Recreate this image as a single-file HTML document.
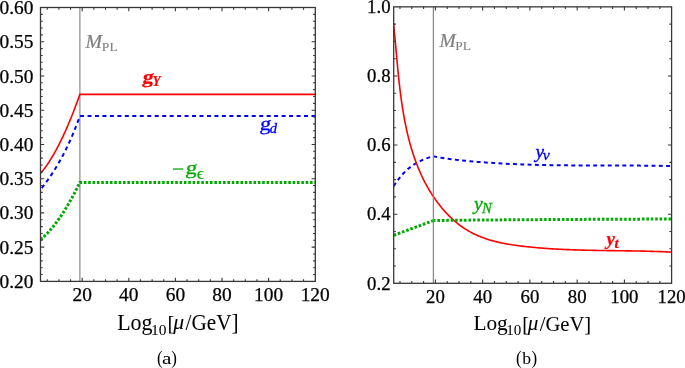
<!DOCTYPE html>
<html><head><meta charset="utf-8"><style>
html,body{margin:0;padding:0;background:#fff;width:685px;height:368px;overflow:hidden}
svg{display:block;will-change:transform}
text{font-family:"Liberation Serif",serif}
</style></head><body>
<svg width="685" height="368" viewBox="0 0 685 368">
<defs><clipPath id="cl"><rect x="40.5" y="7.5" width="274.8" height="273.9"/></clipPath><clipPath id="cr"><rect x="393.7" y="6.85" width="277.9" height="276.45"/></clipPath></defs>
<line x1="79.85" y1="7.5" x2="79.85" y2="281.4" stroke="#a8a8a8" stroke-width="1.6"/>
<g clip-path="url(#cl)" fill="none">
<path d="M40.5 173.51 L41.48 172.33 L42.47 171.12 L43.45 169.86 L44.44 168.57 L45.42 167.23 L46.4 165.85 L47.39 164.43 L48.37 162.97 L49.35 161.46 L50.34 159.92 L51.32 158.33 L52.3 156.7 L53.29 155.04 L54.27 153.33 L55.26 151.57 L56.24 149.78 L57.22 147.95 L58.21 146.07 L59.19 144.16 L60.17 142.2 L61.16 140.2 L62.14 138.16 L63.13 136.08 L64.11 133.95 L65.09 131.79 L66.08 129.58 L67.06 127.34 L68.04 125.05 L69.03 122.72 L70.01 120.35 L71 117.94 L71.98 115.48 L72.96 112.99 L73.95 110.45 L74.93 107.87 L75.91 105.26 L76.9 102.6 L77.88 99.89 L78.87 97.15 L79.85 94.37 L315.3 94.4" stroke="#ff0000" stroke-width="1.6"/>
<path d="M40.5 189.6 L41.48 188.37 L42.47 187.11 L43.45 185.84 L44.44 184.54 L45.42 183.23 L46.4 181.89 L47.39 180.52 L48.37 179.14 L49.35 177.73 L50.34 176.29 L51.32 174.83 L52.3 173.34 L53.29 171.82 L54.27 170.28 L55.26 168.7 L56.24 167.1 L57.22 165.46 L58.21 163.79 L59.19 162.09 L60.17 160.35 L61.16 158.58 L62.14 156.77 L63.13 154.92 L64.11 153.03 L65.09 151.1 L66.08 149.13 L67.06 147.11 L68.04 145.05 L69.03 142.94 L70.01 140.78 L71 138.57 L71.98 136.3 L72.96 133.98 L73.95 131.6 L74.93 129.16 L75.91 126.66 L76.9 124.09 L77.88 121.45 L78.87 118.74 L79.85 115.95 L315.3 115.95" stroke="#0000ff" stroke-width="2" stroke-dasharray="4 3.465" stroke-dashoffset="-2"/>
<path d="M40.5 239.67 L41.48 238.83 L42.47 237.97 L43.45 237.07 L44.44 236.15 L45.42 235.19 L46.4 234.2 L47.39 233.18 L48.37 232.14 L49.35 231.06 L50.34 229.95 L51.32 228.81 L52.3 227.64 L53.29 226.43 L54.27 225.2 L55.26 223.94 L56.24 222.65 L57.22 221.32 L58.21 219.97 L59.19 218.58 L60.17 217.17 L61.16 215.72 L62.14 214.24 L63.13 212.73 L64.11 211.19 L65.09 209.62 L66.08 208.02 L67.06 206.39 L68.04 204.73 L69.03 203.04 L70.01 201.32 L71 199.57 L71.98 197.78 L72.96 195.97 L73.95 194.12 L74.93 192.25 L75.91 190.34 L76.9 188.4 L77.88 186.43 L78.87 184.44 L79.85 182.41 L315.3 182.4" stroke="#00aa00" stroke-width="3" stroke-dasharray="2.6 1.75"/>
</g>
<g clip-path="url(#cr)" fill="none">
<path d="M393.7 186.15 L395.07 184.03 L396.44 182.03 L397.81 180.13 L399.18 178.34 L400.54 176.65 L401.91 175.05 L403.28 173.54 L404.65 172.13 L406.02 170.79 L407.39 169.54 L408.76 168.37 L410.13 167.27 L411.5 166.23 L412.87 165.27 L414.23 164.36 L415.6 163.52 L416.97 162.72 L418.34 161.98 L419.71 161.29 L421.08 160.63 L422.45 160.02 L423.82 159.44 L425.19 158.89 L426.56 158.37 L427.92 157.88 L429.29 157.4 L430.66 156.94 L432.03 156.49 L433.4 156.2 L437.44 157.19 L441.47 157.82 L445.51 158.41 L449.55 158.96 L453.59 159.47 L457.62 159.95 L461.66 160.39 L465.7 160.81 L469.74 161.19 L473.77 161.56 L477.81 161.9 L481.85 162.21 L485.88 162.51 L489.92 162.79 L493.96 163.05 L498 163.3 L502.03 163.52 L506.07 163.73 L510.11 163.93 L514.15 164.11 L518.18 164.27 L522.22 164.42 L526.26 164.56 L530.29 164.68 L534.33 164.8 L538.37 164.9 L542.41 164.99 L546.44 165.07 L550.48 165.14 L554.52 165.2 L558.56 165.26 L562.59 165.31 L566.63 165.35 L570.67 165.38 L574.71 165.41 L578.74 165.43 L582.78 165.45 L586.82 165.46 L590.85 165.48 L594.89 165.49 L598.93 165.49 L602.97 165.5 L607 165.51 L611.04 165.51 L615.08 165.52 L619.12 165.53 L623.15 165.54 L627.19 165.56 L631.23 165.57 L635.26 165.59 L639.3 165.62 L643.34 165.65 L647.38 165.69 L651.41 165.73 L655.45 165.78 L659.49 165.84 L663.53 165.91 L667.56 165.98 L671.6 166.07" stroke="#0000ff" stroke-width="2" stroke-dasharray="3.9 3.39"/>
<path d="M393.55 23.52 L393.72 25.08 L393.88 26.65 L394.04 28.23 L394.2 29.82 L394.36 31.41 L394.51 33 L394.67 34.6 L394.82 36.21 L394.97 37.82 L395.12 39.44 L395.27 41.06 L395.41 42.69 L395.56 44.32 L395.71 45.95 L395.85 47.59 L396 49.24 L396.14 50.88 L396.29 52.54 L396.44 54.19 L396.58 55.85 L396.73 57.51 L396.88 59.18 L397.03 60.85 L397.19 62.52 L397.34 64.2 L397.5 65.87 L397.66 67.55 L397.82 69.24 L397.98 70.92 L398.14 72.61 L398.31 74.3 L398.48 75.99 L398.66 77.68 L398.84 79.37 L399.02 81.07 L399.2 82.76 L399.39 84.46 L399.58 86.16 L399.78 87.86 L399.98 89.55 L400.19 91.25 L400.4 92.95 L400.62 94.65 L400.84 96.35 L401.07 98.05 L401.3 99.75 L401.54 101.45 L401.78 103.15 L402.03 104.85 L402.29 106.55 L402.55 108.24 L402.82 109.94 L403.1 111.63 L403.39 113.32 L403.68 115.01 L403.98 116.7 L404.28 118.39 L404.6 120.07 L404.92 121.75 L405.25 123.43 L405.59 125.11 L405.94 126.78 L406.3 128.45 L406.66 130.12 L407.04 131.79 L407.42 133.45 L407.82 135.11 L408.22 136.76 L408.63 138.41 L409.06 140.06 L409.49 141.7 L409.94 143.34 L410.39 144.98 L410.86 146.61 L411.34 148.23 L411.82 149.85 L412.32 151.47 L412.84 153.08 L413.36 154.68 L413.89 156.28 L414.44 157.88 L415 159.47 L415.57 161.05 L416.16 162.63 L416.76 164.2 L417.37 165.76 L417.99 167.32 L418.63 168.87 L419.28 170.41 L419.95 171.95 L420.63 173.48 L421.32 175.01 L422.03 176.52 L422.76 178.03 L423.49 179.53 L424.25 181.02 L425.02 182.51 L425.8 183.99 L426.6 185.45 L427.41 186.91 L428.24 188.37 L429.09 189.81 L429.95 191.24 L430.83 192.67 L431.73 194.09 L432.64 195.49 L433.58 196.89 L434.52 198.28 L435.49 199.65 L436.47 201.02 L437.47 202.37 L438.48 203.72 L439.52 205.05 L440.57 206.36 L441.63 207.66 L442.71 208.95 L443.81 210.22 L444.93 211.47 L446.06 212.71 L447.21 213.93 L448.37 215.13 L449.56 216.31 L450.75 217.47 L451.97 218.62 L453.2 219.74 L454.44 220.84 L455.71 221.92 L456.98 222.98 L458.28 224.01 L459.59 225.02 L460.91 226 L462.25 226.96 L463.61 227.9 L464.98 228.81 L466.37 229.69 L467.77 230.54 L469.19 231.36 L470.63 232.16 L472.08 232.93 L473.54 233.67 L475.02 234.38 L476.51 235.06 L478.01 235.72 L479.53 236.36 L481.06 236.97 L482.6 237.56 L484.15 238.12 L485.72 238.66 L487.29 239.18 L488.87 239.68 L490.47 240.16 L492.07 240.61 L493.68 241.05 L495.3 241.47 L496.93 241.87 L498.56 242.25 L500.2 242.62 L501.85 242.97 L503.5 243.31 L505.16 243.63 L506.82 243.93 L508.49 244.22 L510.17 244.5 L511.84 244.77 L513.52 245.03 L515.2 245.27 L516.89 245.5 L518.57 245.73 L520.26 245.94 L521.95 246.15 L523.64 246.35 L525.33 246.54 L527.02 246.72 L528.71 246.9 L530.4 247.07 L532.08 247.24 L533.77 247.4 L535.46 247.56 L537.14 247.71 L538.83 247.85 L540.51 247.99 L542.19 248.12 L543.88 248.25 L545.56 248.38 L547.24 248.5 L548.92 248.61 L550.6 248.72 L552.28 248.83 L553.97 248.93 L555.64 249.03 L557.32 249.12 L559 249.21 L560.68 249.3 L562.36 249.38 L564.04 249.45 L565.72 249.53 L567.39 249.6 L569.07 249.67 L570.75 249.73 L572.42 249.79 L574.1 249.85 L575.78 249.91 L577.45 249.96 L579.13 250.01 L580.8 250.06 L582.48 250.11 L584.15 250.15 L585.83 250.19 L587.5 250.23 L589.18 250.27 L590.86 250.3 L592.53 250.34 L594.21 250.37 L595.88 250.4 L597.56 250.43 L599.23 250.46 L600.91 250.48 L602.58 250.51 L604.26 250.53 L605.93 250.56 L607.61 250.58 L609.29 250.6 L610.96 250.63 L612.64 250.65 L614.32 250.67 L616 250.69 L617.67 250.71 L619.35 250.74 L621.03 250.76 L622.71 250.78 L624.39 250.8 L626.07 250.83 L627.75 250.85 L629.43 250.88 L631.11 250.9 L632.79 250.93 L634.47 250.96 L636.15 250.99 L637.83 251.02 L639.52 251.05 L641.2 251.09 L642.88 251.12 L644.57 251.16 L646.25 251.2 L647.94 251.24 L649.63 251.28 L651.31 251.33 L653 251.38 L654.69 251.43 L656.38 251.48 L658.07 251.54 L659.76 251.6 L661.45 251.66 L663.14 251.73 L664.84 251.79 L666.53 251.87 L668.23 251.94 L669.92 252.02 L671.62 252.1" stroke="#ff0000" stroke-width="1.6"/>
<path d="M393.7 235.3L433.4 220.6" stroke="#00aa00" stroke-width="3" stroke-dasharray="2.6 1.845"/>
<path d="M433.4 220.6Q470 219.8 671.6 219.0" stroke="#00aa00" stroke-width="3" stroke-dasharray="2.6 1.845" stroke-dashoffset="0.35"/>
</g>
<line x1="433.4" y1="6.85" x2="433.4" y2="283.3" stroke="#8a8a8a" stroke-width="1.3"/>
<path d="M47.25 281.4v-2.2M47.25 7.5v2.2M58.9 281.4v-2.2M58.9 7.5v2.2M70.55 281.4v-2.2M70.55 7.5v2.2M82.2 281.4v-3.7M82.2 7.5v3.7M93.85 281.4v-2.2M93.85 7.5v2.2M105.5 281.4v-2.2M105.5 7.5v2.2M117.15 281.4v-2.2M117.15 7.5v2.2M128.8 281.4v-3.7M128.8 7.5v3.7M140.45 281.4v-2.2M140.45 7.5v2.2M152.1 281.4v-2.2M152.1 7.5v2.2M163.75 281.4v-2.2M163.75 7.5v2.2M175.4 281.4v-3.7M175.4 7.5v3.7M187.05 281.4v-2.2M187.05 7.5v2.2M198.7 281.4v-2.2M198.7 7.5v2.2M210.35 281.4v-2.2M210.35 7.5v2.2M222 281.4v-3.7M222 7.5v3.7M233.65 281.4v-2.2M233.65 7.5v2.2M245.3 281.4v-2.2M245.3 7.5v2.2M256.95 281.4v-2.2M256.95 7.5v2.2M268.6 281.4v-3.7M268.6 7.5v3.7M280.25 281.4v-2.2M280.25 7.5v2.2M291.9 281.4v-2.2M291.9 7.5v2.2M303.55 281.4v-2.2M303.55 7.5v2.2M40.5 274.55h2.2M315.3 274.55h-2.2M40.5 267.7h2.2M315.3 267.7h-2.2M40.5 260.86h2.2M315.3 260.86h-2.2M40.5 254.01h2.2M315.3 254.01h-2.2M40.5 247.16h2.2M315.3 247.16h-2.2M40.5 240.31h2.2M315.3 240.31h-2.2M40.5 233.47h2.2M315.3 233.47h-2.2M40.5 226.62h2.2M315.3 226.62h-2.2M40.5 219.77h2.2M315.3 219.77h-2.2M40.5 212.92h2.2M315.3 212.92h-2.2M40.5 206.08h2.2M315.3 206.08h-2.2M40.5 199.23h2.2M315.3 199.23h-2.2M40.5 192.38h2.2M315.3 192.38h-2.2M40.5 185.53h2.2M315.3 185.53h-2.2M40.5 178.69h2.2M315.3 178.69h-2.2M40.5 171.84h2.2M315.3 171.84h-2.2M40.5 164.99h2.2M315.3 164.99h-2.2M40.5 158.14h2.2M315.3 158.14h-2.2M40.5 151.3h2.2M315.3 151.3h-2.2M40.5 144.45h2.2M315.3 144.45h-2.2M40.5 137.6h2.2M315.3 137.6h-2.2M40.5 130.75h2.2M315.3 130.75h-2.2M40.5 123.91h2.2M315.3 123.91h-2.2M40.5 117.06h2.2M315.3 117.06h-2.2M40.5 110.21h2.2M315.3 110.21h-2.2M40.5 103.36h2.2M315.3 103.36h-2.2M40.5 96.52h2.2M315.3 96.52h-2.2M40.5 89.67h2.2M315.3 89.67h-2.2M40.5 82.82h2.2M315.3 82.82h-2.2M40.5 75.97h2.2M315.3 75.97h-2.2M40.5 69.13h2.2M315.3 69.13h-2.2M40.5 62.28h2.2M315.3 62.28h-2.2M40.5 55.43h2.2M315.3 55.43h-2.2M40.5 48.58h2.2M315.3 48.58h-2.2M40.5 41.74h2.2M315.3 41.74h-2.2M40.5 34.89h2.2M315.3 34.89h-2.2M40.5 28.04h2.2M315.3 28.04h-2.2M40.5 21.19h2.2M315.3 21.19h-2.2M40.5 14.35h2.2M315.3 14.35h-2.2M40.5 247.16h3.7M315.3 247.16h-3.7M40.5 212.92h3.7M315.3 212.92h-3.7M40.5 178.69h3.7M315.3 178.69h-3.7M40.5 144.45h3.7M315.3 144.45h-3.7M40.5 110.21h3.7M315.3 110.21h-3.7M40.5 75.97h3.7M315.3 75.97h-3.7M40.5 41.74h3.7M315.3 41.74h-3.7" stroke="#383838" stroke-width="1.1" fill="none"/>
<rect x="40.5" y="7.5" width="274.8" height="273.9" stroke="#383838" stroke-width="1.3" fill="none"/>
<path d="M399.96 283.3v-2.2M399.96 6.85v2.2M411.77 283.3v-2.2M411.77 6.85v2.2M423.59 283.3v-2.2M423.59 6.85v2.2M435.4 283.3v-3.7M435.4 6.85v3.7M447.21 283.3v-2.2M447.21 6.85v2.2M459.02 283.3v-2.2M459.02 6.85v2.2M470.84 283.3v-2.2M470.84 6.85v2.2M482.65 283.3v-3.7M482.65 6.85v3.7M494.46 283.3v-2.2M494.46 6.85v2.2M506.27 283.3v-2.2M506.27 6.85v2.2M518.09 283.3v-2.2M518.09 6.85v2.2M529.9 283.3v-3.7M529.9 6.85v3.7M541.71 283.3v-2.2M541.71 6.85v2.2M553.52 283.3v-2.2M553.52 6.85v2.2M565.34 283.3v-2.2M565.34 6.85v2.2M577.15 283.3v-3.7M577.15 6.85v3.7M588.96 283.3v-2.2M588.96 6.85v2.2M600.77 283.3v-2.2M600.77 6.85v2.2M612.59 283.3v-2.2M612.59 6.85v2.2M624.4 283.3v-3.7M624.4 6.85v3.7M636.21 283.3v-2.2M636.21 6.85v2.2M648.02 283.3v-2.2M648.02 6.85v2.2M659.84 283.3v-2.2M659.84 6.85v2.2M393.7 266.02h2.2M671.6 266.02h-2.2M393.7 248.74h2.2M671.6 248.74h-2.2M393.7 231.47h2.2M671.6 231.47h-2.2M393.7 214.19h2.2M671.6 214.19h-2.2M393.7 196.91h2.2M671.6 196.91h-2.2M393.7 179.63h2.2M671.6 179.63h-2.2M393.7 162.35h2.2M671.6 162.35h-2.2M393.7 145.07h2.2M671.6 145.07h-2.2M393.7 127.8h2.2M671.6 127.8h-2.2M393.7 110.52h2.2M671.6 110.52h-2.2M393.7 93.24h2.2M671.6 93.24h-2.2M393.7 75.96h2.2M671.6 75.96h-2.2M393.7 58.68h2.2M671.6 58.68h-2.2M393.7 41.41h2.2M671.6 41.41h-2.2M393.7 24.13h2.2M671.6 24.13h-2.2M393.7 214.19h3.7M671.6 214.19h-3.7M393.7 145.07h3.7M671.6 145.07h-3.7M393.7 75.96h3.7M671.6 75.96h-3.7" stroke="#383838" stroke-width="1.1" fill="none"/>
<rect x="393.7" y="6.85" width="277.9" height="276.45" stroke="#383838" stroke-width="1.3" fill="none"/>
<g font-size="19.4" text-anchor="end" stroke="#000" stroke-width="0.25">
<text x="33.4" y="287.95">0.20</text>
<text x="33.4" y="253.71">0.25</text>
<text x="33.4" y="219.47">0.30</text>
<text x="33.4" y="185.24">0.35</text>
<text x="33.4" y="151">0.40</text>
<text x="33.4" y="116.76">0.45</text>
<text x="33.4" y="82.52">0.50</text>
<text x="33.4" y="48.29">0.55</text>
<text x="33.4" y="14.05">0.60</text>
</g>
<g font-size="18.8" text-anchor="end" stroke="#000" stroke-width="0.25">
<text x="390.6" y="289.6">0.2</text>
<text x="390.6" y="220.49">0.4</text>
<text x="390.6" y="151.37">0.6</text>
<text x="390.6" y="82.26">0.8</text>
<text x="390.6" y="13.15">1.0</text>
</g>
<g font-size="19.4" text-anchor="middle" stroke="#000" stroke-width="0.25">
<text x="82.2" y="301">20</text>
<text x="128.8" y="301">40</text>
<text x="175.4" y="301">60</text>
<text x="222" y="301">80</text>
<text x="268.6" y="301">100</text>
<text x="315.2" y="301">120</text>
</g>
<g font-size="18.8" text-anchor="middle" stroke="#000" stroke-width="0.25">
<text x="435.4" y="303">20</text>
<text x="482.65" y="303">40</text>
<text x="529.9" y="303">60</text>
<text x="577.15" y="303">80</text>
<text x="624.4" y="303">100</text>
<text x="671.65" y="303">120</text>
</g>
<g stroke="#000" stroke-width="0.25">
<text transform="translate(117.24,329.81) scale(0.2192,0.2233)" font-size="100" font-weight="normal" font-style="normal" fill="#000" >Log</text>
<text transform="translate(151,335.11) scale(0.1552,0.1456)" font-size="100" font-weight="normal" font-style="normal" fill="#000" >10</text>
<text transform="translate(167.44,330.36) scale(0.2087,0.2183)" font-size="100" font-weight="normal" font-style="normal" fill="#000" >[</text>
<text transform="translate(173.2,329.34) scale(0.2170,0.2075)" font-size="100" font-weight="normal" font-style="italic" fill="#000" >μ</text>
<text transform="translate(185.5,330.33) scale(0.2124,0.2207)" font-size="100" font-weight="normal" font-style="normal" fill="#000" >/GeV]</text>
<text transform="translate(473.46,330.18) scale(0.2127,0.2166)" font-size="100" font-weight="normal" font-style="normal" fill="#000" >Log</text>
<text transform="translate(506.21,335.31) scale(0.1505,0.1412)" font-size="100" font-weight="normal" font-style="normal" fill="#000" >10</text>
<text transform="translate(522.15,330.71) scale(0.2024,0.2117)" font-size="100" font-weight="normal" font-style="normal" fill="#000" >[</text>
<text transform="translate(527.74,329.72) scale(0.2105,0.2012)" font-size="100" font-weight="normal" font-style="italic" fill="#000" >μ</text>
<text transform="translate(539.67,330.68) scale(0.2060,0.2141)" font-size="100" font-weight="normal" font-style="normal" fill="#000" >/GeV]</text>
</g>
<text transform="translate(157.02,364.07) scale(0.1692,0.1778)" font-size="100" font-weight="normal" font-style="normal" fill="#000" >(</text>
<text transform="translate(162.05,363.94) scale(0.2128,0.1646)" font-size="100" font-weight="normal" font-style="normal" fill="#000" >a</text>
<text transform="translate(171.29,364.07) scale(0.1692,0.1778)" font-size="100" font-weight="normal" font-style="normal" fill="#000" >)</text>
<text transform="translate(516.02,364.07) scale(0.1692,0.1778)" font-size="100" font-weight="normal" font-style="normal" fill="#000" >(</text>
<text transform="translate(522.2,364.04) scale(0.1761,0.1614)" font-size="100" font-weight="normal" font-style="normal" fill="#000" >b</text>
<text transform="translate(531.39,364.07) scale(0.1692,0.1778)" font-size="100" font-weight="normal" font-style="normal" fill="#000" >)</text>
<text transform="translate(85.42,47.67) scale(0.1994,0.1915)" font-size="100" font-weight="normal" font-style="italic" fill="#808080" stroke="#808080" stroke-width="1.28" >M</text>
<text transform="translate(101.84,50.65) scale(0.1361,0.1338)" font-size="100" font-weight="normal" font-style="normal" fill="#808080" stroke="#808080" stroke-width="0.74" >PL</text>
<text transform="translate(439.42,46.88) scale(0.1949,0.1900)" font-size="100" font-weight="normal" font-style="italic" fill="#808080" stroke="#808080" stroke-width="1.30" >M</text>
<text transform="translate(455.35,49.95) scale(0.1343,0.1292)" font-size="100" font-weight="normal" font-style="normal" fill="#808080" stroke="#808080" stroke-width="0.76" >PL</text>
<text transform="translate(142.08,82.51) scale(0.2170,0.1904) skewX(-8)" font-size="100" font-weight="bold" font-style="normal" fill="#ff0000" stroke="#ff0000" stroke-width="0.98" >g</text>
<text transform="translate(152.44,85.7) scale(0.1328,0.1477)" font-size="100" font-weight="bold" font-style="italic" fill="#ff0000" stroke="#ff0000" stroke-width="1.43" >Y</text>
<text transform="translate(259.52,130.33) scale(0.2198,0.1951) skewX(-6)" font-size="100" font-weight="normal" font-style="normal" fill="#0000ff" stroke="#0000ff" stroke-width="1.69" >g</text>
<text transform="translate(269.74,133.48) scale(0.1457,0.1436)" font-size="100" font-weight="normal" font-style="italic" fill="#0000ff" stroke="#0000ff" stroke-width="2.42" >d</text>
<rect x="173" y="168.3" width="10.1" height="1.5" fill="#00aa00" opacity="0.85"/>
<text transform="translate(185.17,174.05) scale(0.2271,0.1903) skewX(-6)" font-size="100" font-weight="normal" font-style="normal" fill="#00aa00" stroke="#00aa00" stroke-width="1.44" >g</text>
<text transform="translate(196.73,179.47) scale(0.1794,0.1771)" font-size="100" font-weight="normal" font-style="normal" fill="#00aa00" stroke="#00aa00" stroke-width="0.56" >ϵ</text>
<text transform="translate(535.51,157.66) scale(0.1913,0.1888)" font-size="100" font-weight="normal" font-style="italic" fill="#0000ff" stroke="#0000ff" stroke-width="1.84" >y</text>
<text transform="translate(542.66,160.47) scale(0.1583,0.1543)" font-size="100" font-weight="normal" font-style="italic" fill="#0000ff" stroke="#0000ff" stroke-width="2.24" >ν</text>
<text transform="translate(473.93,209.67) scale(0.1981,0.1896)" font-size="100" font-weight="normal" font-style="italic" fill="#00aa00" stroke="#00aa00" stroke-width="1.55" >y</text>
<text transform="translate(482,213.15) scale(0.1472,0.1415)" font-size="100" font-weight="normal" font-style="italic" fill="#00aa00" stroke="#00aa00" stroke-width="2.08" >N</text>
<text transform="translate(606.51,244.69) scale(0.1909,0.1910)" font-size="100" font-weight="bold" font-style="italic" fill="#ff0000" stroke="#ff0000" stroke-width="1.05" >y</text>
<text transform="translate(614.54,248.2) scale(0.1519,0.1518)" font-size="100" font-weight="bold" font-style="italic" fill="#ff0000" stroke="#ff0000" stroke-width="1.32" >t</text>
</svg>
</body></html>
